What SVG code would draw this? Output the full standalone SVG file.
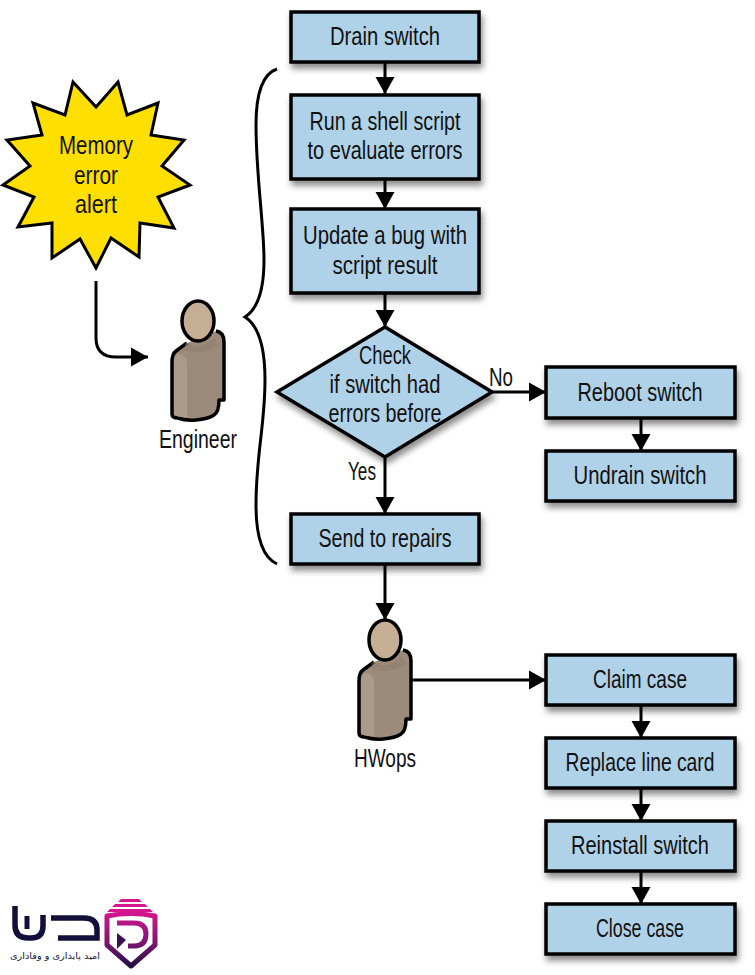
<svg xmlns="http://www.w3.org/2000/svg" width="755" height="975" viewBox="0 0 755 975">
<style>
text{font-family:"Liberation Sans","Open Sans",sans-serif;fill:#111;font-size:25px;text-anchor:middle}
.b{fill:#b0d2e9;stroke:#000;stroke-width:3.5;filter:url(#s)}
.c{fill:none;stroke:#000;stroke-width:3}
.head{fill:#c5ae94;stroke:#000;stroke-width:3.5}
.body{fill:#9c8b7a;stroke:#000;stroke-width:3.5;stroke-linejoin:round}
.arm{fill:#ab9b8b}
.shade{fill:#8f7f6f}
</style>
<defs>
<filter id="s" x="-15%" y="-25%" width="130%" height="160%"><feDropShadow dx="2" dy="5" stdDeviation="3" flood-color="#000" flood-opacity="0.45"/></filter>
<marker id="a" markerUnits="userSpaceOnUse" markerWidth="20" markerHeight="22" refX="17" refY="10" orient="auto"><path d="M0 0.5L17 10L0 19.5Z" fill="#000"/></marker>
<linearGradient id="g" gradientUnits="userSpaceOnUse" x1="0" y1="912" x2="0" y2="968"><stop offset="0" stop-color="#d6168f"/><stop offset="0.55" stop-color="#7a1570"/><stop offset="1" stop-color="#1c1040"/></linearGradient>
<g id="person">
<path class="body" d="M187 343L176 351Q172 354 172 362V414Q172 418 178 418Q186 421 196 420Q208 419 214 415Q219 412 219 400H224V342Q224 332 216 331"/>
<path class="arm" d="M174 360Q174 354 180 354Q187 356 187 364V417Q180 418 174 415Z"/>
<path class="shade" d="M186 342Q198 352 214 338L220 345Q200 356 184 350Z" opacity="0.6"/>
<ellipse class="head" cx="198" cy="321" rx="16" ry="20"/>
</g>
</defs>

<g id="connectors">
<path class="c" d="M385 62V94" marker-end="url(#a)"/>
<path class="c" d="M385 179V209" marker-end="url(#a)"/>
<path class="c" d="M385 293V327" marker-end="url(#a)"/>
<path class="c" d="M385 457V514" marker-end="url(#a)"/>
<path class="c" d="M492 392H546" marker-end="url(#a)"/>
<path class="c" d="M641 418V451" marker-end="url(#a)"/>
<path class="c" d="M385 564V620" marker-end="url(#a)"/>
<path class="c" d="M411 680H546" marker-end="url(#a)"/>
<path class="c" d="M641 705V738" marker-end="url(#a)"/>
<path class="c" d="M641 788V821" marker-end="url(#a)"/>
<path class="c" d="M641 871V904" marker-end="url(#a)"/>
<path class="c" d="M96 281V338Q96 357 116 357H148" marker-end="url(#a)"/>
<path class="c" d="M277 69C262 74 256 95 256 125C256 175 264 225 264 260C264 295 256 310 245 317C256 324 265 340 265 380C265 425 256 455 256 505C256 540 264 558 277 564"/>
</g>

<g id="alert">
<path d="M73 82L96 107L118 82L127 115L158 103L151 135L184 140L162 166L190 185L158 197L174 228L140 223L139 257L111 238L96 268L80 239L52 258L52 223L18 227L34 197L3 185L30 166L7 140L42 135L33 103L65 115Z" fill="#ffdf00" stroke="#000" stroke-width="3"/>
<text x="96" y="154" textLength="74" lengthAdjust="spacingAndGlyphs">Memory</text>
<text x="96" y="184" textLength="44" lengthAdjust="spacingAndGlyphs">error</text>
<text x="96" y="213" textLength="42" lengthAdjust="spacingAndGlyphs">alert</text>
</g>

<g id="engineer">
<use href="#person"/>
<text x="198" y="448" textLength="78" lengthAdjust="spacingAndGlyphs">Engineer</text>
</g>
<g id="hwops">
<use href="#person" x="187" y="319"/>
<text x="385" y="767" textLength="62" lengthAdjust="spacingAndGlyphs">HWops</text>
</g>

<g id="drain"><rect class="b" x="291" y="12" width="188" height="50"/><text x="385" y="45" textLength="110" lengthAdjust="spacingAndGlyphs">Drain switch</text></g>
<g id="run"><rect class="b" x="291" y="95" width="188" height="84"/><text x="385" y="130" textLength="151" lengthAdjust="spacingAndGlyphs">Run a shell script</text><text x="385" y="159" textLength="155" lengthAdjust="spacingAndGlyphs">to evaluate errors</text></g>
<g id="update"><rect class="b" x="291" y="209" width="188" height="84"/><text x="385" y="244" textLength="164" lengthAdjust="spacingAndGlyphs">Update a bug with</text><text x="385" y="274" textLength="105" lengthAdjust="spacingAndGlyphs">script result</text></g>
<g id="check"><path class="b" d="M385 327L492 392L385 457L277 392Z"/><text x="385" y="364" textLength="52" lengthAdjust="spacingAndGlyphs">Check</text><text x="385" y="393" textLength="111" lengthAdjust="spacingAndGlyphs">if switch had</text><text x="385" y="422" textLength="113" lengthAdjust="spacingAndGlyphs">errors before</text></g>
<text x="501" y="386" textLength="24" lengthAdjust="spacingAndGlyphs">No</text>
<text x="362" y="480" textLength="28" lengthAdjust="spacingAndGlyphs">Yes</text>
<g id="send"><rect class="b" x="291" y="514" width="188" height="50"/><text x="385" y="547" textLength="133" lengthAdjust="spacingAndGlyphs">Send to repairs</text></g>
<g id="reboot"><rect class="b" x="546" y="367" width="189" height="51"/><text x="640" y="401" textLength="125" lengthAdjust="spacingAndGlyphs">Reboot switch</text></g>
<g id="undrain"><rect class="b" x="546" y="451" width="189" height="50"/><text x="640" y="484" textLength="133" lengthAdjust="spacingAndGlyphs">Undrain switch</text></g>
<g id="claim"><rect class="b" x="546" y="655" width="189" height="50"/><text x="640" y="688" textLength="94" lengthAdjust="spacingAndGlyphs">Claim case</text></g>
<g id="replace"><rect class="b" x="546" y="738" width="189" height="50"/><text x="640" y="771" textLength="149" lengthAdjust="spacingAndGlyphs">Replace line card</text></g>
<g id="reinstall"><rect class="b" x="546" y="821" width="189" height="50"/><text x="640" y="854" textLength="138" lengthAdjust="spacingAndGlyphs">Reinstall switch</text></g>
<g id="close"><rect class="b" x="546" y="904" width="189" height="50"/><text x="640" y="937" textLength="88" lengthAdjust="spacingAndGlyphs">Close case</text></g>

<g id="logo">
<path fill="none" stroke="#12103a" stroke-width="5.5" d="M15 906V925Q15 938 28 938H31Q43 938 43 926V915"/>
<path fill="none" stroke="#12103a" stroke-width="5" d="M27 916V929"/>
<path fill="none" stroke="#12103a" stroke-width="5.5" d="M51 918H84Q97 918 97 930V938H58"/>
<path d="M121 899H139L142 902H118ZM115 904H145L148 907H112ZM110 909H150L153 912H107Z" fill="#d6168f"/>
<path fill="none" stroke="url(#g)" stroke-width="5" stroke-linejoin="round" d="M107 916Q131 911 155 916V945L131 966L107 945Z"/>
<path fill="none" stroke="url(#g)" stroke-width="5" d="M117 923H134Q146 923 146 934Q146 946 134 946H128"/>
<path d="M117 933L126 940L117 949Z" fill="#3a1050"/>
<text x="55" y="959" style="font-family:'DejaVu Sans','Noto Sans',sans-serif;font-size:9px;fill:#12103a" direction="rtl" textLength="90" lengthAdjust="spacingAndGlyphs">امید پایداری و وفاداری</text>
</g>
</svg>
